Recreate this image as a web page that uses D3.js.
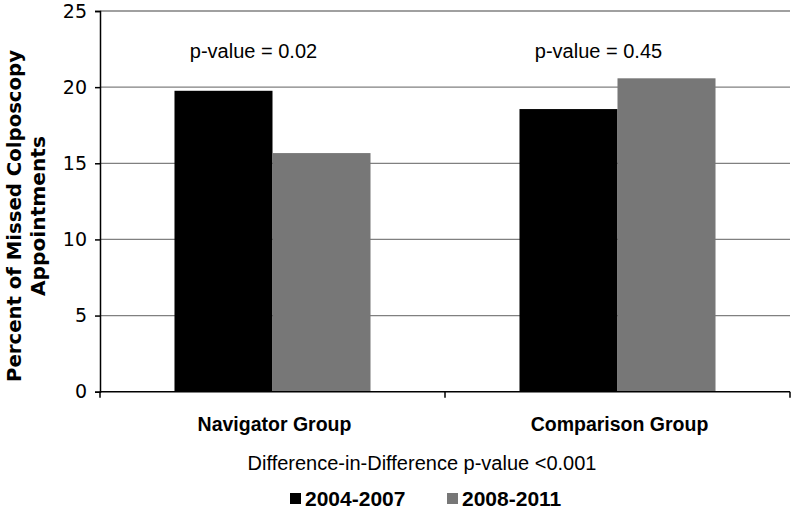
<!DOCTYPE html>
<html><head><meta charset="utf-8">
<script src="https://cdn.jsdelivr.net/npm/d3@7"></script>
<style>body{margin:0;background:#fff}svg{display:block}</style>
</head><body>
<svg id="c" width="792" height="509"></svg>
<script>
const categories = ["Navigator Group", "Comparison Group"];
const seriesNames = ["2004-2007", "2008-2011"];
const values2004_2007 = [19.76, 18.56];
const values2008_2011 = [15.67, 20.58];
const pValueLabels = ["p-value = 0.02", "p-value = 0.45"];
const yTicks = [0, 5, 10, 15, 20, 25];
const colors = ["#000000", "#777777"];
const footnote = "Difference-in-Difference p-value <0.001";
const yTitle = ["Percent of Missed Colposcopy", "Appointments"];

const svg = d3.select("#c");
const L = 100, R = 790, T = 11, B = 391.7;
const x = d3.scaleBand().domain(categories).range([L, R]).paddingInner(0).paddingOuter(0);
const y = d3.scaleLinear().domain([0, 25]).range([B, T]);
const xs = d3.scaleBand().domain(seriesNames).range([0, x.bandwidth()]).paddingInner(0).paddingOuter(0.76);

// gridlines
svg.append("g").selectAll("line").data(yTicks.filter(d => d > 0)).join("line")
  .attr("x1", L).attr("x2", R).attr("y1", d => y(d)).attr("y2", d => y(d))
  .attr("stroke", "#808080").attr("stroke-width", 1.3);

// bars
const data = categories.map((c, i) => ({c, vals: [values2004_2007[i], values2008_2011[i]]}));
const g = svg.append("g");
data.forEach(d => {
  d.vals.forEach((v, j) => {
    g.append("rect")
      .attr("x", x(d.c) + xs(seriesNames[j]))
      .attr("width", xs.bandwidth())
      .attr("y", y(v)).attr("height", B - y(v))
      .attr("fill", colors[j]);
  });
});

// y axis
const yAxis = svg.append("g").attr("transform", `translate(${L},0)`)
  .call(d3.axisLeft(y).tickValues(yTicks).tickSize(5).tickPadding(8));
yAxis.select(".domain").attr("stroke", "#000").attr("stroke-width", 1.5);
yAxis.selectAll(".tick line").attr("stroke", "#000").attr("stroke-width", 1.5);
yAxis.selectAll("text").attr("font-family", "DejaVu Sans").attr("font-size", 19).attr("fill", "#000");

// x axis
const xAxis = svg.append("g").attr("transform", `translate(0,${B})`);
xAxis.append("line").attr("x1", L).attr("x2", R).attr("stroke", "#000").attr("stroke-width", 1.5);
xAxis.selectAll("line.t").data([L, (L + R) / 2, R]).join("line").attr("class", "t")
  .attr("x1", d => d).attr("x2", d => d).attr("y1", 0).attr("y2", 6)
  .attr("stroke", "#000").attr("stroke-width", 1.5);
xAxis.selectAll("text").data(categories).join("text")
  .attr("x", d => x(d) + x.bandwidth() / 2 + 2).attr("y", 39.3)
  .attr("text-anchor", "middle").attr("font-family", "Liberation Sans").attr("font-weight", "bold")
  .attr("font-size", 19.5).text(d => d);

// p-value labels
svg.selectAll("text.pv").data(categories).join("text").attr("class", "pv")
  .attr("x", d => x(d) + x.bandwidth() / 2 - 19).attr("y", 58)
  .attr("text-anchor", "middle").attr("font-family", "Liberation Sans").attr("font-size", 20)
  .text((d, i) => pValueLabels[i]);

// y title
const yt = svg.append("text").attr("transform", "translate(0,216) rotate(-90)")
  .attr("text-anchor", "middle").attr("font-family", "DejaVu Sans").attr("font-weight", "bold").attr("font-size", 19);
yt.append("tspan").attr("x", 0).attr("y", 21).attr("textLength", 332).attr("lengthAdjust", "spacingAndGlyphs").text(yTitle[0]);
yt.append("tspan").attr("x", 0).attr("y", 45).attr("textLength", 160).attr("lengthAdjust", "spacingAndGlyphs").text(yTitle[1]);

// footnote
svg.append("text").attr("x", 422).attr("y", 470).attr("text-anchor", "middle")
  .attr("font-family", "Liberation Sans").attr("font-size", 20).text(footnote);

// legend
const lg = svg.append("g");
const legX = [290, 447];
seriesNames.forEach((s, i) => {
  lg.append("rect").attr("x", legX[i]).attr("y", 493).attr("width", 11).attr("height", 11).attr("fill", colors[i]);
  lg.append("text").attr("x", legX[i] + 15).attr("y", 505.5).attr("font-family", "Liberation Sans")
    .attr("font-weight", "bold").attr("font-size", 21).text(s);
});
</script>
</body></html>
